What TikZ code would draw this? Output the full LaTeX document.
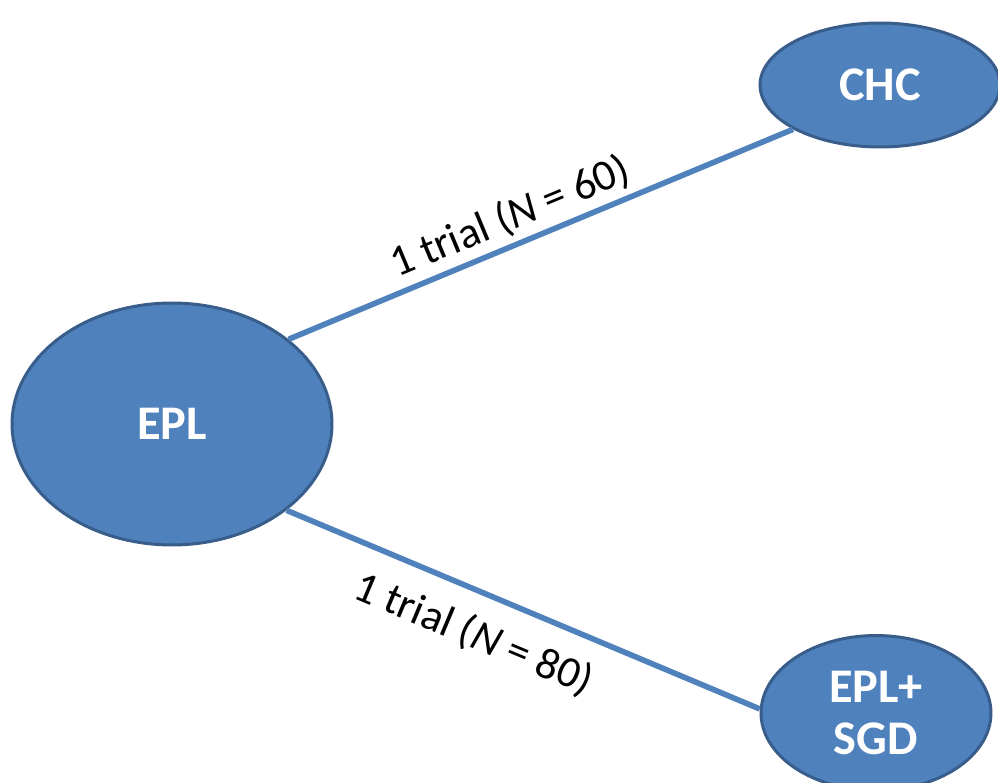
\documentclass[tikz,border=0pt]{standalone}
\usepackage{fontspec}
\setmainfont{Carlito}
\usetikzlibrary{shapes.geometric}
\definecolor{nodeblue}{HTML}{4F81BD}
\definecolor{nodeedge}{HTML}{385D8A}
\tikzset{treat/.style={ellipse, draw=nodeedge, line width=1.7pt, fill=nodeblue, text=white, inner sep=0pt, font=\fontsize{27.5}{30}\selectfont\bfseries, align=center}}
\tikzset{link/.style={draw=nodeblue, line width=3.2pt}}
\tikzset{lbl/.style={sloped, font=\fontsize{25}{27}\selectfont}}

\begin{document}
\begin{tikzpicture}[x=0.02cm, y=-0.02cm]
        \useasboundingbox (0,0) rectangle (998,783);
        \node[treat, minimum width=6.4cm, minimum height=4.84cm] (EPL) at (172,424){EPL};
        \node[treat, minimum width=4.8cm, minimum height=2.48cm] (CHC) at (880,85){CHC};
        \node[treat, minimum width=4.6cm, minimum height=3.1cm] (SGD) at (876,713){EPL+\\SGD};

        \draw[link] (EPL.36) -- node[lbl, above, pos=0.46]{1 trial (\textit{N} = 60)} (CHC.207);
        \draw[link] (EPL.-37) -- node[lbl, below=8pt, pos=0.43]{1 trial (\textit{N} = 80)} (SGD.178);
    \end{tikzpicture}
\end{document}
